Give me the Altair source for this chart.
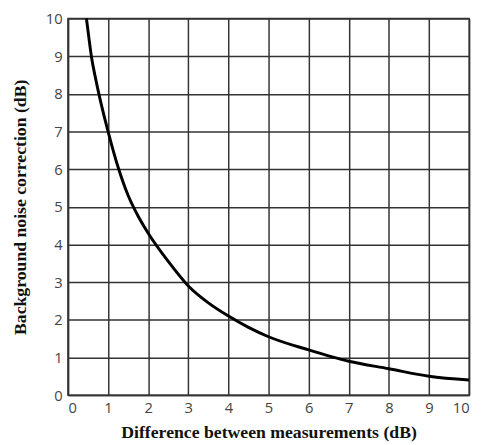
import altair as alt
import pandas as pd

diff_db = [0.46, 0.52, 0.59, 0.68, 0.77, 0.88, 1.0, 1.25, 1.5, 1.75, 2.0, 2.5, 3.0, 3.5, 4.0, 4.5, 5.0, 6.0, 7.0, 8.0, 9.0, 10.0]
correction_db = [10.0, 9.5, 8.95, 8.45, 8.0, 7.5, 7.0, 6.05, 5.3, 4.75, 4.3, 3.55, 2.9, 2.45, 2.1, 1.8, 1.55, 1.2, 0.9, 0.7, 0.5, 0.4]
tick_values = [0, 1, 2, 3, 4, 5, 6, 7, 8, 9, 10]

df = pd.DataFrame({"d": diff_db, "c": correction_db})

axis_common = dict(
    grid=True, gridColor="#333333", gridWidth=1.5, gridOpacity=1,
    domainColor="#333333", domainWidth=1.5, ticks=False,
    labelFont="Open Sans", labelFontSize=15, labelColor="#444444", labelOverlap=False,
    titleFont="Liberation Serif", titleFontSize=18, titleFontWeight="bold", titleColor="#111111",
    values=tick_values,
)

chart = alt.Chart(df).mark_line(color="black", strokeWidth=3, interpolate="monotone").encode(
    x=alt.X("d:Q", scale=alt.Scale(domain=[0, 10], nice=False),
            axis=alt.Axis(title="Difference between measurements (dB)", labelPadding=6, titlePadding=8, **axis_common)),
    y=alt.Y("c:Q", scale=alt.Scale(domain=[0, 10], nice=False),
            axis=alt.Axis(title="Background noise correction (dB)", labelPadding=6, titlePadding=16, **axis_common)),
).properties(
    width=408, height=383,
    autosize=alt.AutoSizeParams(type="none"),
    padding={"left": 61, "top": 7, "right": 8, "bottom": 46},
).configure_view(stroke="#333333", strokeWidth=1.5)

chart.save("out.html", embed_options={"renderer": "svg", "actions": False})
